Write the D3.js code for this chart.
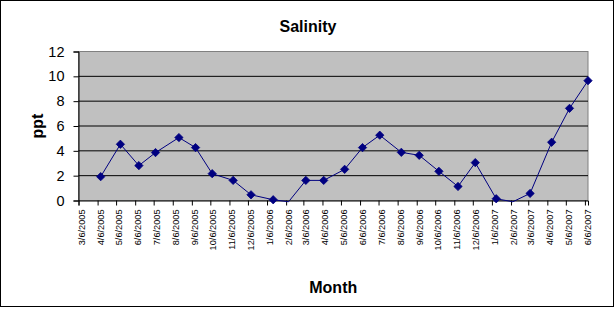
<!DOCTYPE html>
<html>
<head>
<meta charset="utf-8">
<script src="https://cdn.jsdelivr.net/npm/d3@7"></script>
<style>
  body { margin: 0; background: #fff; }
  text { font-family: "Liberation Sans", Arial, sans-serif; fill: #000; }
</style>
</head>
<body>
<div id="chart"></div>
<script>
// sample dates (m/d/yyyy) and salinity readings in ppt
var sampleDates = ['4/11/2005', '5/13/2005', '6/12/2005', '7/9/2005', '8/16/2005', '9/12/2005',
    '10/9/2005', '11/12/2005', '12/11/2005', '1/16/2006', '2/10/2006', '3/10/2006', '4/8/2006',
    '5/12/2006', '6/10/2006', '7/8/2006', '8/12/2006', '9/10/2006', '10/12/2006', '11/12/2006',
    '12/10/2006', '1/13/2007', '2/9/2007', '3/9/2007', '4/13/2007', '5/12/2007', '6/11/2007'];
var salinity = [1.92, 4.53, 2.81, 3.86, 5.07, 4.26, 2.16, 1.62, 0.46, 0.06, -0.1, 1.62, 1.62,
    2.51, 4.26, 5.26, 3.88, 3.64, 2.35, 1.13, 3.05, 0.14, -0.1, 0.57, 4.69, 7.42, 9.65];
var xTickLabels = ['3/6/2005', '4/6/2005', '5/6/2005', '6/6/2005', '7/6/2005', '8/6/2005',
    '9/6/2005', '10/6/2005', '11/6/2005', '12/6/2005', '1/6/2006', '2/6/2006', '3/6/2006',
    '4/6/2006', '5/6/2006', '6/6/2006', '7/6/2006', '8/6/2006', '9/6/2006', '10/6/2006',
    '11/6/2006', '12/6/2006', '1/6/2007', '2/6/2007', '3/6/2007', '4/6/2007', '5/6/2007', '6/6/2007'];
var yTicks = [0, 2, 4, 6, 8, 10, 12];

var width = 616, height = 309;
var plotLeft = 78.5, plotRight = 588, plotTop = 51.5, plotBottom = 200.5;

var parse = d3.timeParse('%m/%d/%Y');
var data = sampleDates.map(function (s, i) {
    return { date: parse(s), v: salinity[i] };
});
var tickDates = xTickLabels.map(parse);

var svg = d3.select('#chart').append('svg')
    .attr('width', width)
    .attr('height', height);

// outer chart border
svg.append('rect')
    .attr('x', 0.5).attr('y', 0.5)
    .attr('width', 613).attr('height', 306)
    .attr('fill', '#fff')
    .attr('stroke', '#000');

var x = d3.scaleTime()
    .domain([tickDates[0], data[data.length - 1].date])
    .range([plotLeft, plotRight]);

var y = d3.scaleLinear()
    .domain([0, 12])
    .range([plotBottom, plotTop]);

// plot area
svg.append('rect')
    .attr('x', plotLeft).attr('y', plotTop)
    .attr('width', plotRight - plotLeft).attr('height', plotBottom - plotTop)
    .attr('fill', '#c0c0c0')
    .attr('stroke', '#808080');

// gridlines
svg.append('g').selectAll('line')
    .data(yTicks.filter(function (d) { return d > 0 && d < 12; }))
    .enter().append('line')
    .attr('x1', plotLeft).attr('x2', plotRight)
    .attr('y1', function (d) { return y(d); })
    .attr('y2', function (d) { return y(d); })
    .attr('stroke', '#000');

// y axis
var yAxis = svg.append('g')
    .attr('transform', 'translate(' + plotLeft + ',0)')
    .call(d3.axisLeft(y).tickValues(yTicks).tickSize(5).tickPadding(9).tickFormat(d3.format('d')));
yAxis.select('.domain').attr('stroke', '#000');
yAxis.selectAll('line').attr('stroke', '#000');
yAxis.selectAll('text')
    .style('font-size', '14.5px')
    .style('font-family', '"Liberation Sans", Arial, sans-serif');

// x axis
var xAxis = svg.append('g')
    .attr('transform', 'translate(0,' + plotBottom + ')')
    .call(d3.axisBottom(x).tickValues(tickDates).tickSize(5)
        .tickFormat(function (d, i) { return xTickLabels[i]; }));
xAxis.select('.domain').attr('stroke', '#000');
xAxis.selectAll('line').attr('stroke', '#000');
xAxis.selectAll('text')
    .attr('transform', 'rotate(-90)')
    .attr('text-anchor', 'end')
    .attr('x', -9)
    .attr('y', 0)
    .attr('dy', '0.6em')
    .style('font-size', '9.2px')
    .style('font-family', '"Liberation Sans", Arial, sans-serif');

// series line
var line = d3.line()
    .x(function (d) { return x(d.date); })
    .y(function (d) { return y(d.v); });

svg.append('path')
    .datum(data)
    .attr('d', line)
    .attr('fill', 'none')
    .attr('stroke', '#000080')
    .attr('stroke-width', 1);

// diamond markers (Excel hides markers for points below the axis minimum)
svg.append('g').selectAll('path')
    .data(data.filter(function (d) { return d.v >= 0; }))
    .enter().append('path')
    .attr('transform', function (d) { return 'translate(' + x(d.date) + ',' + y(d.v) + ')'; })
    .attr('d', d3.symbol().type(d3.symbolDiamond2).size(44))
    .attr('fill', '#000080')
    .attr('stroke', '#000080')
    .attr('stroke-width', 0.8);

// titles
svg.append('text')
    .attr('x', 308).attr('y', 32)
    .attr('text-anchor', 'middle')
    .style('font-size', '16px')
    .style('font-weight', 'bold')
    .text('Salinity');

svg.append('text')
    .attr('transform', 'translate(43,' + ((plotTop + plotBottom) / 2) + ') rotate(-90)')
    .attr('text-anchor', 'middle')
    .style('font-size', '16px')
    .style('font-weight', 'bold')
    .text('ppt');

svg.append('text')
    .attr('x', (plotLeft + plotRight) / 2).attr('y', 293)
    .attr('text-anchor', 'middle')
    .style('font-size', '16px')
    .style('font-weight', 'bold')
    .text('Month');
</script>
</body>
</html>
